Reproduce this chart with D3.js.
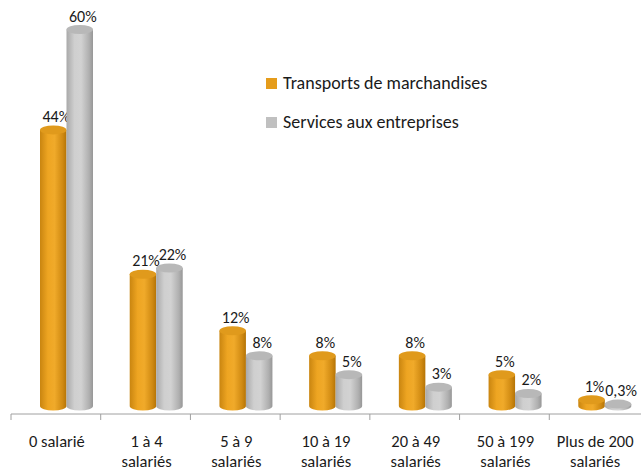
<!DOCTYPE html>
<html>
<head>
<meta charset="utf-8">
<script src="https://cdn.jsdelivr.net/npm/d3@7"></script>
<style>
  body { margin: 0; background: #fff; }
  svg text { font-family: Carlito, "Noto Sans", sans-serif; fill: #1a1a1a; }
</style>
</head>
<body>
<svg id="chart" width="641" height="470"></svg>
<script>
// categories and values
const categories = [["0 salarié"], ["1 à 4", "salariés"], ["5 à 9", "salariés"], ["10 à 19", "salariés"],
  ["20 à 49", "salariés"], ["50 à 199", "salariés"], ["Plus de 200", "salariés"]]
const series = ["Transports de marchandises", "Services aux entreprises"]
const transports = [44, 21, 12, 8, 8, 5, 1]
const services = [60, 22, 8, 5, 3, 2, 0.3]
const labelsT = ["44%", "21%", "12%", "8%", "8%", "5%", "1%"]
const labelsS = ["60%", "22%", "8%", "5%", "3%", "2%", "0,3%"]

const svg = d3.select('#chart')
const keys = categories.map((c, i) => i)

let x0 = d3.scaleBand().domain(keys).range([11, 639]).padding(0)
let x1 = d3.scaleBand().domain([0, 1]).range([29, 82]).padding(0)
let y = d3.scaleLinear().domain([0, 60]).range([406, 29.5])

// gradients for the cylinders
const defs = svg.append('defs')
function grad(id, stops) {
  let g = defs.append('linearGradient').attr('id', id).attr('x1', 0).attr('x2', 1).attr('y1', 0).attr('y2', 0)
  stops.forEach(s => g.append('stop').attr('offset', s[0]).attr('stop-color', s[1]))
}
grad('gO', [[0, '#c98510'], [0.3, '#eea522'], [0.55, '#f0aa2a'], [0.85, '#d08a12'], [1, '#b57406']])
grad('gG', [[0, '#a9a9a9'], [0.3, '#cfcfcf'], [0.55, '#d2d2d2'], [0.85, '#b0b0b0'], [1, '#979797']])
const fills = ['url(#gO)', 'url(#gG)']
const tops = ['#e09a1c', '#b8b8b8']
const legendColors = ['#e59c1b', '#c0c0c0']

// axis
const axis = d3.axisBottom(x0).tickSize(0).tickFormat('')
svg.append('g').attr('transform', 'translate(0,414)').call(axis)
  .call(g => g.select('.domain').attr('stroke', '#a0a0a0').attr('d', 'M11,0H641'))
svg.append('g').selectAll('line').data(keys).enter().append('line')
  .attr('x1', d => x0(d)).attr('x2', d => x0(d))
  .attr('y1', 414).attr('y2', 420).attr('stroke', '#a0a0a0')

// category labels
let cl = svg.append('g').selectAll('text').data(categories).enter().append('text')
  .attr('text-anchor', 'middle').attr('font-size', 16.5)
  .attr('x', (d, i) => x0(i) + x0.bandwidth() / 2 + 1)
  .attr('y', 447)
cl.selectAll('tspan').data(d => d).enter().append('tspan')
  .attr('x', function () { return d3.select(this.parentNode).attr('x') })
  .attr('dy', (d, j) => j === 0 ? 0 : 20)
  .text(d => d)

// cylinders
const ry = 4.5
const data = [transports, services]
const labels = [labelsT, labelsS]
data.forEach((vals, s) => {
  let g = svg.append('g')
  vals.forEach((v, i) => {
    let bx = x0(i) + x1(s)
    let w = x1.bandwidth()
    let yt = y(v), yb = y(0)
    g.append('path')
      .attr('d', `M${bx},${yt}L${bx},${yb}A${w / 2},${ry} 0 0 0 ${bx + w},${yb}L${bx + w},${yt}Z`)
      .attr('fill', fills[s])
    g.append('ellipse')
      .attr('cx', bx + w / 2).attr('cy', yt).attr('rx', w / 2).attr('ry', ry)
      .attr('fill', tops[s])
    g.append('text')
      .attr('x', bx + w / 2 + 3).attr('y', yt - 8)
      .attr('text-anchor', 'middle').attr('font-size', 16)
      .text(labels[s][i])
  })
})

// legend
let lg = svg.append('g').selectAll('g').data(series).enter().append('g')
  .attr('transform', (d, i) => `translate(266,${78 + i * 39})`)
lg.append('rect').attr('width', 11).attr('height', 11).attr('fill', (d, i) => legendColors[i])
lg.append('text').attr('x', 17).attr('y', 10.5).attr('font-size', 18).text(d => d)
</script>
</body>
</html>
